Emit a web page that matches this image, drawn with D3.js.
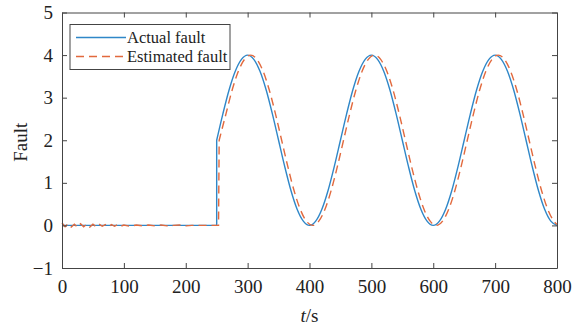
<!DOCTYPE html>
<meta charset="utf-8">
<html>
  <head>
    <style>
     body { margin: 0; background: #fff; }
     svg text { font-family: "Liberation Serif", "DejaVu Serif", serif !important; fill: #222; }
     .tick text { font-size: 19px; }
     .domain, .tick line { stroke: #444; }
    </style>
    <script src="https://d3js.org/d3.v7.min.js"></script>
  </head>
  <body>
    <div id="chart"></div>
    <script>
     // actual fault: zero until t=250, then a sine-like wave (read at 10 s steps)
     var actualT = [0, 250, 250, 260, 270, 280, 290, 300, 310, 320, 330, 340, 350, 360, 370, 380, 390,
                    400, 410, 420, 430, 440, 450, 460, 470, 480, 490, 500, 510, 520, 530, 540, 550,
                    560, 570, 580, 590, 600, 610, 620, 630, 640, 650, 660, 670, 680, 690, 700, 710,
                    720, 730, 740, 750, 760, 770, 780, 790, 800];
     var actualV = [0, 0, 2.0, 2.62, 3.18, 3.62, 3.90, 4.0, 3.90, 3.62, 3.18, 2.62, 2.0, 1.38, 0.82, 0.38, 0.10,
                    0, 0.10, 0.38, 0.82, 1.38, 2.0, 2.62, 3.18, 3.62, 3.90, 4.0, 3.90, 3.62, 3.18, 2.62, 2.0,
                    1.38, 0.82, 0.38, 0.10, 0, 0.10, 0.38, 0.82, 1.38, 2.0, 2.62, 3.18, 3.62, 3.90, 4.0, 3.90,
                    3.62, 3.18, 2.62, 2.0, 1.38, 0.82, 0.38, 0.10, 0];

     // estimated fault: small ripple before the fault, then a slightly delayed copy
     var estT = [0, 5, 10, 15, 20, 25, 30, 35, 40, 45, 50, 55, 60, 65, 70, 75, 80, 85, 90, 95, 100,
                 110, 120, 130, 140, 150, 160, 170, 180, 190, 200, 210, 220, 230, 240, 253,
                 254, 265, 275, 285, 295, 305, 315, 325, 335, 345, 355, 365, 375, 385, 395,
                 405, 415, 425, 435, 445, 455, 465, 475, 485, 495, 505, 515, 525, 535, 545,
                 555, 565, 575, 585, 595, 605, 615, 625, 635, 645, 655, 665, 675, 685, 695,
                 705, 715, 725, 735, 745, 755, 765, 775, 785, 795, 800];
     var estV = [0.06, -0.03, 0.04, -0.04, 0.03, -0.04, 0.04, -0.03, 0.03, -0.04, 0.03, -0.03, 0.03, -0.02, 0.02, -0.03, 0.02, -0.02, 0.02, -0.02, 0.01,
                 -0.02, 0.01, -0.01, 0.01, -0.01, 0.01, -0.01, 0.0, 0.01, -0.01, 0.0, 0.0, 0.0, 0.0, 0.0,
                 2.0, 2.62, 3.18, 3.62, 3.90, 4.0, 3.90, 3.62, 3.18, 2.62, 2.0, 1.38, 0.82, 0.38, 0.10,
                 0, 0.10, 0.38, 0.82, 1.38, 2.0, 2.62, 3.18, 3.62, 3.90, 4.0, 3.90, 3.62, 3.18, 2.62,
                 2.0, 1.38, 0.82, 0.38, 0.10, 0, 0.10, 0.38, 0.82, 1.38, 2.0, 2.62, 3.18, 3.62, 3.90,
                 4.0, 3.90, 3.62, 3.18, 2.62, 2.0, 1.38, 0.82, 0.38, 0.10, 0.02];

     var xTicks = [0, 100, 200, 300, 400, 500, 600, 700, 800];
     var yTicks = [-1, 0, 1, 2, 3, 4, 5];
     var seriesNames = ["Actual fault", "Estimated fault"];
     var seriesColors = ["#2f87c8", "#e2693d"];

     var W = 585, H = 329;
     var margin = { top: 12.5, right: 28, bottom: 61, left: 62 },
         width = W - margin.left - margin.right,
         height = H - margin.top - margin.bottom;

     var svg = d3.select("#chart").append("svg")
                 .attr("width", W)
                 .attr("height", H)
                 .attr("font-family", "Liberation Serif, DejaVu Serif, serif");
     var g = svg.append("g")
                .attr("transform", "translate(" + margin.left + "," + margin.top + ")");

     var x = d3.scaleLinear().domain([0, 800]).range([0, width]);
     var y = d3.scaleLinear().domain([-1, 5]).range([height, 0]);

     // lines (split at the jump so the step stays vertical)
     function pts(ts, vs) { return ts.map(function (t, i) { return [t, vs[i]]; }); }
     var line = d3.line()
                  .x(function (d) { return x(d[0]); })
                  .y(function (d) { return y(d[1]); })
                  .curve(d3.curveMonotoneX);
     var linear = d3.line()
                    .x(function (d) { return x(d[0]); })
                    .y(function (d) { return y(d[1]); });

     var act = pts(actualT, actualV);
     var est = pts(estT, estV);

     g.append("path")
      .attr("d", linear(act.slice(0, 3)) + line(act.slice(2)).replace(/^M/, "L"))
      .attr("fill", "none")
      .attr("stroke", seriesColors[0])
      .attr("stroke-width", 1.4);

     g.append("path")
      .attr("d", linear(est.slice(0, 37)) + line(est.slice(36)).replace(/^M/, "L"))
      .attr("fill", "none")
      .attr("stroke", seriesColors[1])
      .attr("stroke-width", 1.4)
      .attr("stroke-dasharray", "8,5");

     // axes, ticks inward, box all round
     function fixFont(sel) { sel.attr("font-family", null).attr("font-size", null); }
     g.append("g").attr("transform", "translate(0," + height + ")")
      .call(d3.axisBottom(x).tickValues(xTicks).tickSizeInner(-5).tickSizeOuter(0).tickPadding(12))
      .call(fixFont);
     g.append("g")
      .call(d3.axisTop(x).tickValues(xTicks).tickSizeInner(-5).tickSizeOuter(0).tickFormat(""));
     g.append("g")
      .call(d3.axisLeft(y).tickValues(yTicks).tickSizeInner(-5).tickSizeOuter(0).tickPadding(9)
              .tickFormat(function (d) { return d < 0 ? "\u2212" + (-d) : d; }))
      .call(fixFont);
     g.append("g").attr("transform", "translate(" + width + ",0)")
      .call(d3.axisRight(y).tickValues(yTicks).tickSizeInner(-5).tickSizeOuter(0).tickFormat(""));

     // axis titles
     var xt = svg.append("text")
                 .attr("x", margin.left + width / 2)
                 .attr("y", 322)
                 .attr("text-anchor", "middle")
                 .style("font-size", "19px");
     xt.append("tspan").style("font-style", "italic").text("t");
     xt.append("tspan").text("/s");

     svg.append("text")
        .attr("transform", "translate(27," + (margin.top + height / 2 + 2) + ") rotate(-90)")
        .attr("text-anchor", "middle")
        .style("font-size", "19px")
        .text("Fault");

     // legend
     var lg = g.append("g").attr("transform", "translate(8,12)");
     lg.append("rect")
       .attr("width", 160).attr("height", 45)
       .attr("fill", "#fff").attr("stroke", "#444").attr("stroke-width", 1);
     seriesNames.forEach(function (name, i) {
       var yy = 13 + i * 19;
       lg.append("line")
         .attr("x1", 6).attr("x2", 56).attr("y1", yy).attr("y2", yy)
         .attr("stroke", seriesColors[i]).attr("stroke-width", 1.4)
         .attr("stroke-dasharray", i === 1 ? "8,5" : null);
       lg.append("text")
         .attr("x", 57).attr("y", yy + 5)
         .style("font-size", "16.5px")
         .text(name);
     });
    </script>
  </body>
</html>
